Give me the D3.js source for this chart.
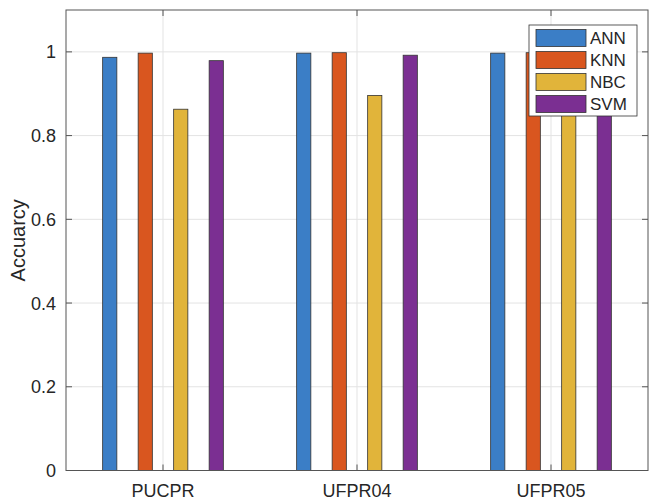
<!DOCTYPE html>
<html><head><meta charset="utf-8">
<script src="https://cdn.jsdelivr.net/npm/d3@7"></script>
<style>body{margin:0;background:#fff}svg{display:block}text{font-family:Arial,"Liberation Sans",sans-serif;fill:#262626}</style>
</head><body>
<svg id="c" width="649" height="503"></svg>
<script>
const categories = ["PUCPR", "UFPR04", "UFPR05"];
const seriesNames = ["ANN", "KNN", "NBC", "SVM"];
const ANN = [0.987, 0.997, 0.997];
const KNN = [0.997, 0.998, 0.998];
const NBC = [0.863, 0.896, 0.90];
const SVM = [0.979, 0.992, 0.99];
const yTicks = [0, 0.2, 0.4, 0.6, 0.8, 1];
const colors = ["#3b7ec6", "#d9561f", "#e1b43a", "#7b2f92"];
const values = [ANN, KNN, NBC, SVM];

const svg = d3.select("#c");
const L = 66, R = 648, T = 10, B = 470.5;
const x = d3.scaleLinear().domain([0.5, 3.5]).range([L, R]);
const y = d3.scaleLinear().domain([0, 1.1]).range([B, T]);
const unit = x(1) - x(0);
const sub = d3.scaleBand().domain(seriesNames).range([-0.366 * unit, 0.366 * unit]).paddingInner(0.6).paddingOuter(0.3);

// grid
const g = svg.append("g");
g.selectAll("line.gy").data(yTicks.filter(d => d > 0)).join("line")
  .attr("x1", L).attr("x2", R).attr("y1", d => y(d)).attr("y2", d => y(d))
  .attr("stroke", "#e3e3e3").attr("stroke-width", 1);
g.selectAll("line.gx").data(categories).join("line")
  .attr("x1", (d, i) => x(i + 1)).attr("x2", (d, i) => x(i + 1)).attr("y1", T).attr("y2", B)
  .attr("stroke", "#e3e3e3").attr("stroke-width", 1);

// bars
seriesNames.forEach((s, si) => {
  svg.append("g").selectAll("rect").data(values[si]).join("rect")
    .attr("x", (d, i) => x(i + 1) + sub(s))
    .attr("width", sub.bandwidth())
    .attr("y", d => y(d))
    .attr("height", d => y(0) - y(d))
    .attr("fill", colors[si]).attr("stroke", "#333").attr("stroke-width", 0.8);
});

// axes frame
const ax = svg.append("g").attr("stroke", "#555").attr("stroke-width", 1).attr("fill", "none");
ax.append("rect").attr("x", L).attr("y", T).attr("width", R - L).attr("height", B - T);
yTicks.forEach(t => {
  ax.append("line").attr("x1", L).attr("x2", L + 6).attr("y1", y(t)).attr("y2", y(t));
  ax.append("line").attr("x1", R).attr("x2", R - 6).attr("y1", y(t)).attr("y2", y(t));
});
categories.forEach((c, i) => {
  ax.append("line").attr("x1", x(i + 1)).attr("x2", x(i + 1)).attr("y1", B).attr("y2", B - 6);
  ax.append("line").attr("x1", x(i + 1)).attr("x2", x(i + 1)).attr("y1", T).attr("y2", T + 6);
});

// tick labels
svg.append("g").selectAll("text").data(yTicks).join("text")
  .attr("x", L - 10).attr("y", d => y(d)).attr("dy", "0.36em").attr("text-anchor", "end")
  .attr("font-size", 18).text(d => d3.format("~g")(d));
svg.append("g").selectAll("text").data(categories).join("text")
  .attr("x", (d, i) => x(i + 1)).attr("y", B + 26).attr("text-anchor", "middle")
  .attr("font-size", 18).text(d => d);
svg.append("text").attr("transform", `translate(25,${(T + B) / 2}) rotate(-90)`)
  .attr("text-anchor", "middle").attr("font-size", 20).text("Accuarcy");

// legend
const lg = svg.append("g").attr("transform", "translate(529,25)");
lg.append("rect").attr("width", 108).attr("height", 91).attr("fill", "#fff").attr("stroke", "#333").attr("stroke-width", 0.8);
seriesNames.forEach((s, i) => {
  const cy = 13 + i * 22;
  lg.append("rect").attr("x", 7).attr("y", cy - 8.5).attr("width", 50).attr("height", 17)
    .attr("fill", colors[i]).attr("stroke", "#333").attr("stroke-width", 0.8);
  lg.append("text").attr("x", 61).attr("y", cy).attr("dy", "0.36em").attr("font-size", 17).text(s);
});
</script>
</body></html>
